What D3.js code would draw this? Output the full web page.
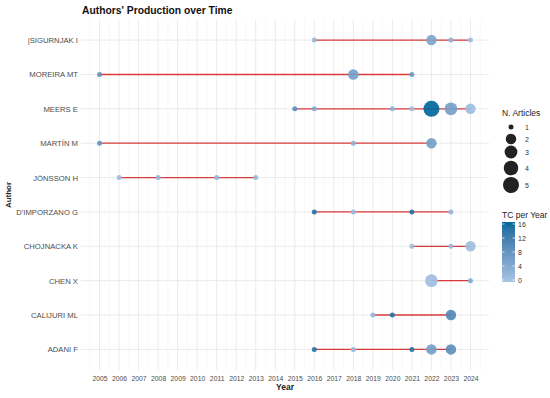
<!DOCTYPE html>
<html><head><meta charset="utf-8">
<script src="https://cdn.jsdelivr.net/npm/d3@7"></script>
<style>body{margin:0;background:#fff}svg{display:block;font-family:"Liberation Sans",Arial,sans-serif}</style>
</head><body><svg id="c" width="550" height="398"></svg>
<script>
const authors = ["|SIGURNJAK I","MOREIRA MT","MEERS E","MARTÍN M","JÖNSSON H","D'IMPORZANO G","CHOJNACKA K","CHEN X","CALIJURI ML","ADANI F"];
const pointAuthor = ["|SIGURNJAK I","|SIGURNJAK I","|SIGURNJAK I","|SIGURNJAK I",
 "MOREIRA MT","MOREIRA MT","MOREIRA MT",
 "MEERS E","MEERS E","MEERS E","MEERS E","MEERS E","MEERS E","MEERS E",
 "MARTÍN M","MARTÍN M","MARTÍN M",
 "JÖNSSON H","JÖNSSON H","JÖNSSON H","JÖNSSON H",
 "D'IMPORZANO G","D'IMPORZANO G","D'IMPORZANO G","D'IMPORZANO G",
 "CHOJNACKA K","CHOJNACKA K","CHOJNACKA K",
 "CHEN X","CHEN X",
 "CALIJURI ML","CALIJURI ML","CALIJURI ML",
 "ADANI F","ADANI F","ADANI F","ADANI F","ADANI F"];
const pointYear = [2016,2022,2023,2024, 2005,2018,2021, 2015,2016,2020,2021,2022,2023,2024, 2005,2018,2022, 2006,2008,2011,2013, 2016,2018,2021,2023, 2021,2023,2024, 2022,2024, 2019,2020,2023, 2016,2018,2021,2022,2023];
const pointArticles = [1,2,1,1, 1,2,1, 1,1,1,1,5,3,2, 1,1,2, 1,1,1,1, 1,1,1,1, 1,1,2, 3,1, 1,1,2, 1,1,1,2,2];
const pointTC = [2,5,3,1, 8,6,7, 9,4,3,1,16,6,1, 8,3,6, 1,2,2,2, 14,2,14,2, 1,2,1, 1,4, 2,14,10, 14,2,14,6,9];
const years = d3.range(2005, 2025);
const sizeLegend = [1,2,3,4,5];
const tcTicks = [0,4,8,12,16];

const svg = d3.select("#c");
const x = d3.scaleLinear().domain([2004.05, 2024.95]).range([81, 489]);
const y = d3.scalePoint().domain(authors).range([19.5, 370]).padding(0.6);
const r = d3.scaleLinear().domain([0,1]).range([2.5, 8]);
const rad = n => r(Math.sqrt((n-1)/4));
const col = d3.scaleLinear().domain([0,16]).range(["#a7c4e4","#00689c"]).interpolate(d3.interpolateLab);

// grid
const g = svg.append("g");
g.selectAll(".minor").data(d3.range(2004.5, 2025, 1)).join("line")
 .attr("x1", d=>x(d)).attr("x2", d=>x(d)).attr("y1",19.5).attr("y2",370)
 .attr("stroke","#f3f3f3").attr("stroke-width",0.6);
g.selectAll(".major").data(years).join("line")
 .attr("x1", d=>x(d)).attr("x2", d=>x(d)).attr("y1",19.5).attr("y2",370)
 .attr("stroke","#ebebeb").attr("stroke-width",1);
g.selectAll(".hy").data(authors).join("line")
 .attr("x1",81).attr("x2",489).attr("y1",d=>y(d)).attr("y2",d=>y(d))
 .attr("stroke","#ebebeb").attr("stroke-width",1);

// axes
const xa = svg.append("g").attr("transform","translate(0,370)")
 .call(d3.axisBottom(x).tickValues(years).tickFormat(d3.format("d")).tickSize(0).tickPadding(6));
xa.select(".domain").remove();
xa.selectAll("text").attr("fill","#4d4d4d").attr("font-size",6.8).attr("font-family","Liberation Sans, Arial, sans-serif");
const ya = svg.append("g").attr("transform","translate(80,0)")
 .call(d3.axisLeft(y).tickSize(0).tickPadding(2));
ya.select(".domain").remove();
ya.selectAll("text").attr("fill","#4d4d4d").attr("font-size",7.7).attr("font-family","Liberation Sans, Arial, sans-serif");

// lines
const pts = pointYear.map((yr,i)=>({a:pointAuthor[i], yr, n:pointArticles[i], tc:pointTC[i]}));
const ranges = d3.rollups(pts, v=>d3.extent(v,d=>d.yr), d=>d.a);
svg.append("g").selectAll("line").data(ranges).join("line")
 .attr("x1",d=>x(d[1][0])).attr("x2",d=>x(d[1][1]))
 .attr("y1",d=>y(d[0])).attr("y2",d=>y(d[0]))
 .attr("stroke","#d93a3a").attr("stroke-width",1.3);

// points
svg.append("g").selectAll("circle").data(pts).join("circle")
 .attr("cx",d=>x(d.yr)).attr("cy",d=>y(d.a)).attr("r",d=>rad(d.n))
 .attr("fill",d=>col(d.tc)).attr("fill-opacity",0.92);

// titles
svg.append("text").attr("x",82).attr("y",14).attr("font-size",10.3).attr("font-weight","bold").attr("fill","#111").text("Authors' Production over Time");
svg.append("text").attr("x",285).attr("y",390).attr("text-anchor","middle").attr("font-size",8.5).attr("font-weight","bold").attr("fill","#222").text("Year");
svg.append("text").attr("transform","translate(11,195) rotate(-90)").attr("text-anchor","middle").attr("font-size",8).attr("font-weight","bold").attr("fill","#222").text("Author");

// size legend
const sl = svg.append("g");
sl.append("text").attr("x",502).attr("y",116).attr("font-size",8.5).attr("fill","#222").text("N. Articles");
const ly = [127,139,152,168,185];
sl.selectAll("circle").data(sizeLegend).join("circle")
 .attr("cx",511).attr("cy",(d,i)=>ly[i]).attr("r",d=>rad(d)).attr("fill","#222");
sl.selectAll(".lt").data(sizeLegend).join("text")
 .attr("x",525).attr("y",(d,i)=>ly[i]+2.5).attr("font-size",7).attr("fill","#333").text(d=>d);

// color legend
const cl = svg.append("g");
cl.append("text").attr("x",502).attr("y",218).attr("font-size",8.5).attr("fill","#222").text("TC per Year");
const grad = svg.append("defs").append("linearGradient").attr("id","gr").attr("x1",0).attr("x2",0).attr("y1",1).attr("y2",0);
d3.range(0,17,2).forEach(v=>grad.append("stop").attr("offset",v/16).attr("stop-color",col(v)));
const cy = d3.scaleLinear().domain([0,16]).range([280,224]);
cl.append("rect").attr("x",502).attr("y",222).attr("width",13).attr("height",60).attr("fill","url(#gr)");
cl.selectAll(".tk").data(tcTicks).join("g").each(function(d){
  const s=d3.select(this);
  s.append("line").attr("x1",502).attr("x2",504.5).attr("y1",cy(d)).attr("y2",cy(d)).attr("stroke","#fff").attr("stroke-width",0.7);
  s.append("line").attr("x1",512.5).attr("x2",515).attr("y1",cy(d)).attr("y2",cy(d)).attr("stroke","#fff").attr("stroke-width",0.7);
  s.append("text").attr("x",518).attr("y",cy(d)+2.5).attr("font-size",7).attr("fill","#333").text(d);
});
</script></body></html>
